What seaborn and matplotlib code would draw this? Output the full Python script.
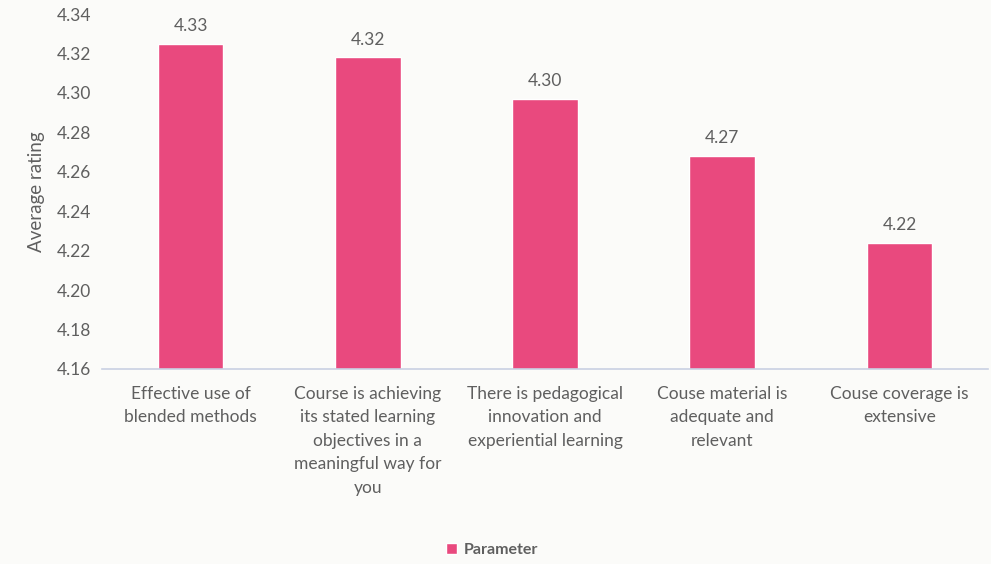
import numpy as np
import pandas as pd
import matplotlib
matplotlib.use("Agg")
import matplotlib.pyplot as plt
import seaborn as sns

categories = [
    "Effective use of\nblended methods",
    "Course is achieving\nits stated learning\nobjectives in a\nmeaningful way for\nyou",
    "There is pedagogical\ninnovation and\nexperiential learning",
    "Couse material is\nadequate and\nrelevant",
    "Couse coverage is\nextensive",
]
ratings = [4.325, 4.318, 4.297, 4.268, 4.224]
yticks = np.arange(4.16, 4.3401, 0.02)

bar_color = "#E9497E"
text_color = "#5f5f5f"

sns.set_style("white")
plt.rcParams["font.family"] = ["Lato", "DejaVu Sans"]

df = pd.DataFrame({"Parameter": categories, "rating": ratings})

fig = plt.figure(figsize=(9.91, 5.64), dpi=100)
fig.patch.set_facecolor("#fbfbf9")
ax = fig.add_axes([0.103, 0.346, 0.894, 0.629])
ax.set_facecolor("#fbfbf9")

sns.barplot(data=df, x="Parameter", y="rating", color=bar_color, width=0.37,
            saturation=1, label="Parameter", ax=ax)

ax.set_ylim(4.16, 4.34)
ax.set_yticks(yticks)
ax.set_yticklabels([f"{t:.2f}" for t in yticks], fontsize=12.5, color=text_color)
ax.set_xticks(range(len(categories)))
ax.set_xticklabels(categories, fontsize=12.5, color=text_color, linespacing=1.58)
ax.tick_params(axis="x", length=0, pad=12)
ax.tick_params(axis="y", length=0, pad=8)
ax.set_xlabel("")
ax.set_ylabel("Average rating", fontsize=13.5, color=text_color, labelpad=8)

for side in ["left", "right", "top"]:
    ax.spines[side].set_visible(False)
ax.spines["bottom"].set_color("#c9d0e3")
ax.spines["bottom"].set_linewidth(1.2)

for c in ax.containers:
    ax.bar_label(c, labels=[f"{v:.2f}" for v in ratings], padding=7,
                 fontsize=12.5, color=text_color)

leg = ax.legend(loc="center", bbox_to_anchor=(0.44, -0.51), frameon=False,
                handlelength=0.7, handleheight=0.7, handletextpad=0.4,
                prop={"size": 11.5, "weight": "bold"})
for t in leg.get_texts():
    t.set_color(text_color)

fig.savefig("out.png", dpi=100, facecolor=fig.get_facecolor())
